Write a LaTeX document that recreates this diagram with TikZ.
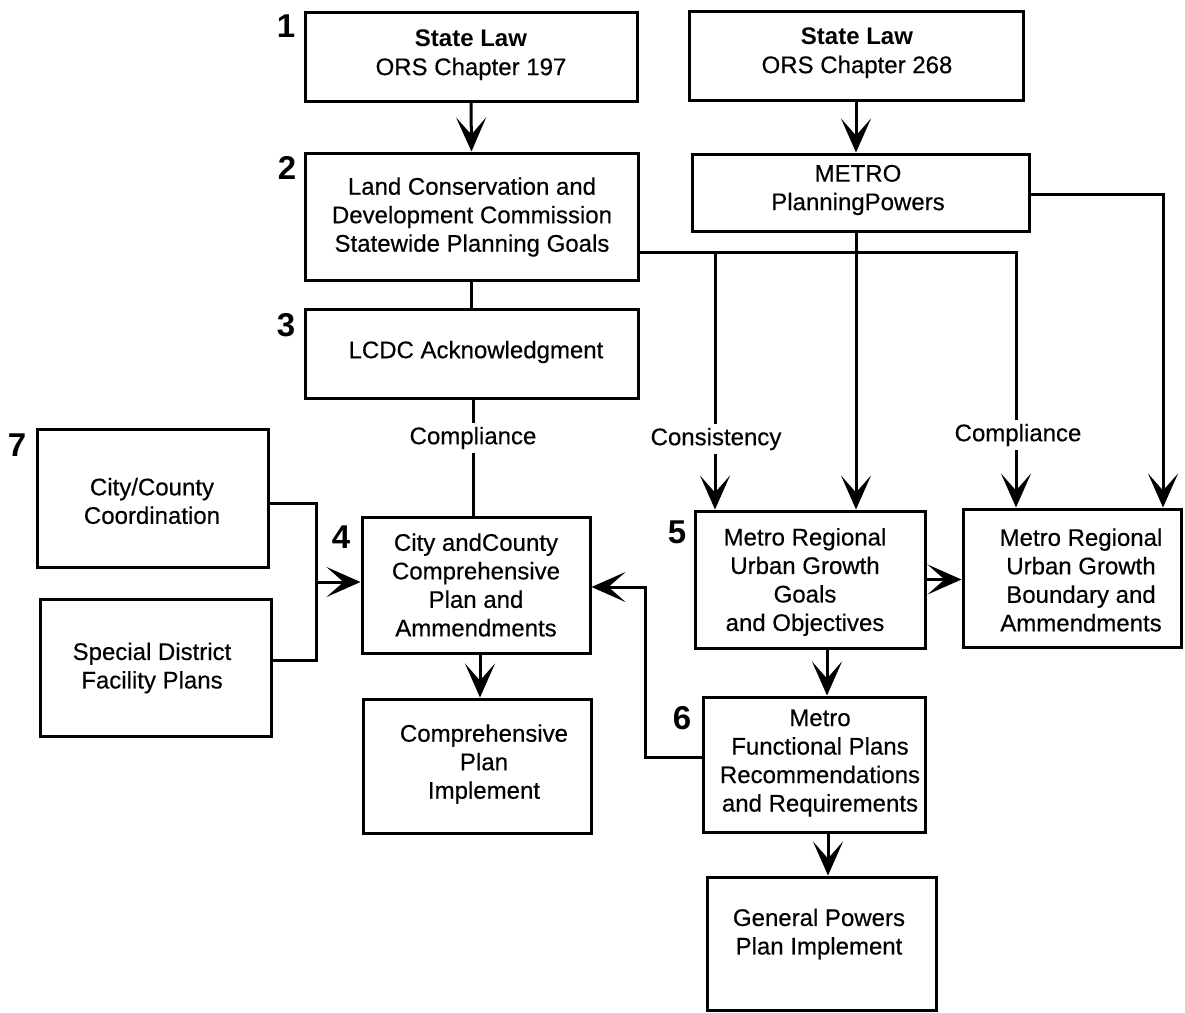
\documentclass[tikz,border=0pt]{standalone}
\usepackage{fontspec}
\setmainfont{Liberation Sans}[UprightFeatures={FakeBold=0.4}]
\usetikzlibrary{arrows.meta}
\begin{document}
\begin{tikzpicture}[x=1pt,y=-1pt,
  box/.style={draw,line width=3pt,inner sep=0pt},
  txt/.style={align=center,font=\fontsize{24}{28.5}\selectfont,inner sep=0pt},
  lab/.style={font=\fontsize{24}{28}\selectfont,inner sep=4pt},
  num/.style={font=\fontsize{33}{33}\selectfont\bfseries,inner sep=0pt},
  conn/.style={line width=3pt},
  arr/.style={line width=3pt,-{Stealth[length=34pt,width=30pt,inset=17pt]}}]
\useasboundingbox (0,0) rectangle (1185,1012);
% boxes
\node[box,minimum width=332pt,minimum height=89pt] (b1) at (471,56.5) {};
\node[box,minimum width=334pt,minimum height=89pt] (b1r) at (856,55.5) {};
\node[box,minimum width=333pt,minimum height=127pt] (b2) at (471.5,216.5) {};
\node[box,minimum width=337pt,minimum height=77pt] (bm) at (860.5,192.5) {};
\node[box,minimum width=333pt,minimum height=89pt] (b3) at (471.5,353.5) {};
\node[box,minimum width=231pt,minimum height=138pt] (b7) at (152.5,498) {};
\node[box,minimum width=231pt,minimum height=137pt] (bs) at (155.5,667.5) {};
\node[box,minimum width=228pt,minimum height=136pt] (b4) at (476,585) {};
\node[box,minimum width=228pt,minimum height=134pt] (bi) at (477,766) {};
\node[box,minimum width=230pt,minimum height=137pt] (b5) at (810,579.5) {};
\node[box,minimum width=218pt,minimum height=138pt] (bu) at (1072,578) {};
\node[box,minimum width=222pt,minimum height=135pt] (b6) at (814,764.5) {};
\node[box,minimum width=229pt,minimum height=133pt] (bg) at (821.5,943.5) {};
% texts
\node[txt] (t1) at (471,55) {\textbf{State Law}\\ORS Chapter 197};
\node[txt] (t1r) at (857,53) {\textbf{State Law}\\ORS Chapter 268};
\node[txt] (t2) at (472,217) {Land Conservation and\\Development Commission\\Statewide Planning Goals};
\node[txt] (tm) at (858,190) {METRO\\PlanningPowers};
\node[txt] (t3) at (476,352) {LCDC Acknowledgment};
\node[txt] (t7) at (152,501) {City/County\\Coordination};
\node[txt] (ts) at (152,668) {Special District\\Facility Plans};
\node[txt] (t4) at (476,585) {City andCounty\\Comprehensive\\Plan and\\Ammendments};
\node[txt] (ti) at (484,764) {Comprehensive\\Plan\\Implement};
\node[txt] (t5) at (805,582) {Metro Regional\\Urban Growth\\Goals\\and Objectives};
\node[txt] (tu) at (1081,580) {Metro Regional\\Urban Growth\\Boundary and\\Ammendments};
\node[txt] (t6) at (820,763) {Metro\\Functional Plans\\Recommendations\\and Requirements};
\node[txt] (tg) at (819,934) {General Powers\\Plan Implement};
% numbers
\node[num] (n1) at (286,26) {1};
\node[num] (n2) at (287,168) {2};
\node[num] (n3) at (286,325) {3};
\node[num] (n4) at (341,537) {4};
\node[num] (n5) at (677,532) {5};
\node[num] (n6) at (682,718) {6};
\node[num] (n7) at (17,445) {7};
% labels
\node[lab] (c1) at (473,438) {Compliance};
\node[lab] (lc1) at (716,439) {Consistency};
\node[lab] (lc2) at (1018,435) {Compliance};
% junction coordinates
\coordinate (j1) at (715,252);
\coordinate (j2) at (1016,252);
\coordinate (j4) at (1163,194);
\coordinate (j6) at (645,757);
\coordinate (j7) at (645,587);
\coordinate (j8) at (316,503);
\coordinate (j9) at (316,660);
\coordinate (j10) at (316,582);
% connectors
\draw[arr] (b1.south) -- (b2.north);
\draw[arr] (b1r.south) -- (b1r.south |- bm.north);
\draw[conn] (b2.south) -- (b2.south |- b3.north);
\draw[conn] (c1 |- b3.south) -- (c1.north);
\draw[conn] (c1.south) -- (c1 |- b4.north);
\draw[conn] (b2.east |- j1) -- (j2) -- (lc2.north -| j2);
\draw[arr] (lc2.south -| j2) -- (j2 |- bu.north);
\draw[conn] (j1) -- (lc1.north -| j1);
\draw[arr] (lc1.south -| j1) -- (j1 |- b5.north);
\draw[arr] (b1r.south |- bm.south) -- (b1r.south |- b5.north);
\draw[arr] (bm.east |- j4) -- (j4) -- (j4 |- bu.north);
\draw[arr] (b5.east) -- (b5.east -| bu.west);
\draw[arr] ([xshift=17pt]b5.south) -- ([xshift=17pt]b5.south |- b6.north);
\draw[arr] ([xshift=14pt]b6.south) -- ([xshift=14pt]b6.south |- bg.north);
\draw[arr] (b6.west |- j6) -- (j6) -- (j7) -- (j7 -| b4.east);
\draw[arr] ([xshift=4pt]b4.south) -- ([xshift=4pt]b4.south |- bi.north);
\draw[conn] (b7.east |- j8) -- (j8) -- (j9) -- (bs.east |- j9);
\draw[arr] (j10) -- (j10 -| b4.west);
\end{tikzpicture}
\end{document}
